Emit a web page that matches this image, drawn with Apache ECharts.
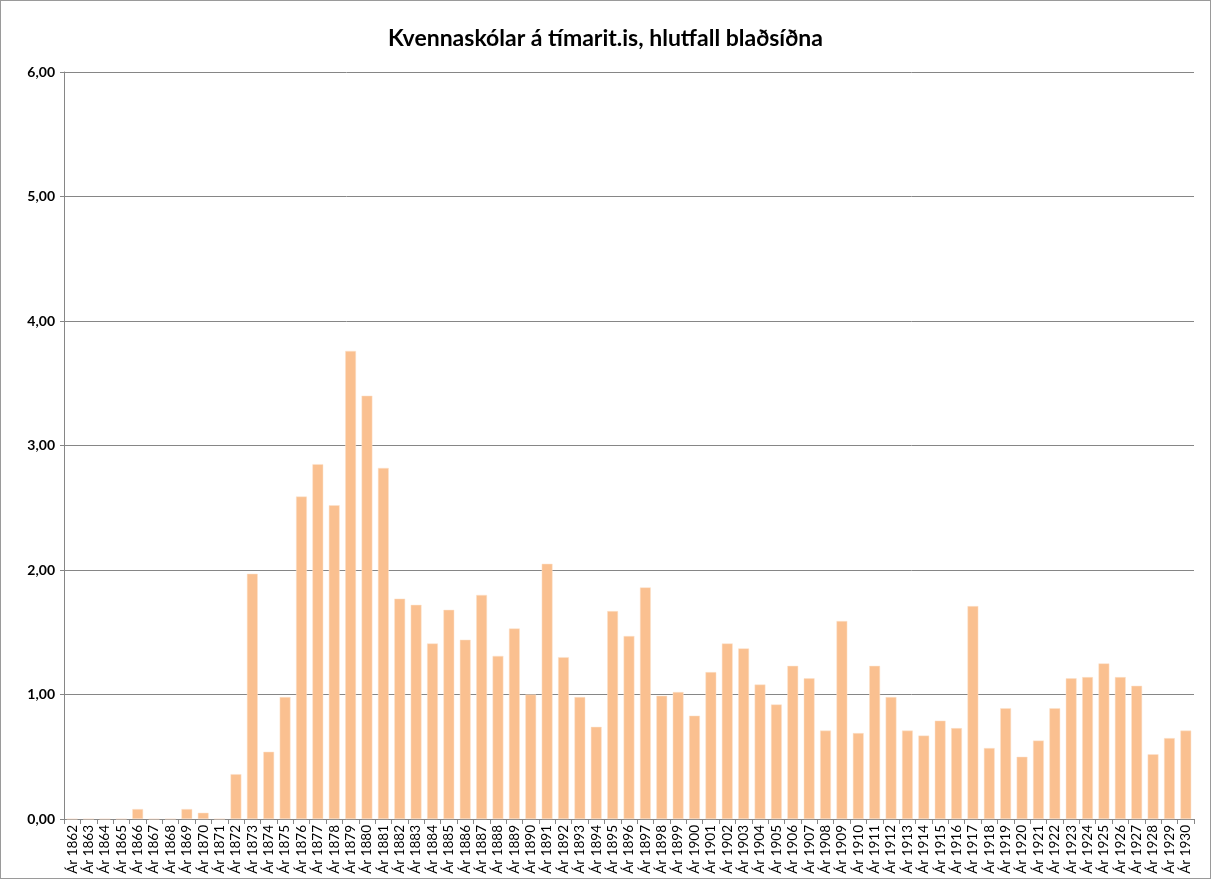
<!DOCTYPE html>
<html>
<head>
<meta charset="utf-8">
<script src="https://cdn.jsdelivr.net/npm/echarts@6/dist/echarts.min.js"></script>
<style>
	html, body { margin: 0; padding: 0; background: #fff; }
	#chart {
		width: 1211px;
		height: 879px;
		box-sizing: border-box;
		border: 1px solid #9a9a9a;
	}
</style>
</head>
<body>
<div id="chart"></div>
<script>
// ár (flokkar)
var years = ['Ár 1862', 'Ár 1863', 'Ár 1864', 'Ár 1865', 'Ár 1866', 'Ár 1867', 'Ár 1868', 'Ár 1869', 'Ár 1870', 'Ár 1871',
	'Ár 1872', 'Ár 1873', 'Ár 1874', 'Ár 1875', 'Ár 1876', 'Ár 1877', 'Ár 1878', 'Ár 1879', 'Ár 1880', 'Ár 1881',
	'Ár 1882', 'Ár 1883', 'Ár 1884', 'Ár 1885', 'Ár 1886', 'Ár 1887', 'Ár 1888', 'Ár 1889', 'Ár 1890', 'Ár 1891',
	'Ár 1892', 'Ár 1893', 'Ár 1894', 'Ár 1895', 'Ár 1896', 'Ár 1897', 'Ár 1898', 'Ár 1899', 'Ár 1900', 'Ár 1901',
	'Ár 1902', 'Ár 1903', 'Ár 1904', 'Ár 1905', 'Ár 1906', 'Ár 1907', 'Ár 1908', 'Ár 1909', 'Ár 1910', 'Ár 1911',
	'Ár 1912', 'Ár 1913', 'Ár 1914', 'Ár 1915', 'Ár 1916', 'Ár 1917', 'Ár 1918', 'Ár 1919', 'Ár 1920', 'Ár 1921',
	'Ár 1922', 'Ár 1923', 'Ár 1924', 'Ár 1925', 'Ár 1926', 'Ár 1927', 'Ár 1928', 'Ár 1929', 'Ár 1930'];

// hlutfall blaðsíðna
var shares = [0, 0, 0, 0, 0.08, 0, 0, 0.08, 0.05, 0,
	0.36, 1.97, 0.54, 0.98, 2.59, 2.85, 2.52, 3.76, 3.40, 2.82,
	1.77, 1.72, 1.41, 1.68, 1.44, 1.80, 1.31, 1.53, 1.00, 2.05,
	1.30, 0.98, 0.74, 1.67, 1.47, 1.86, 0.99, 1.02, 0.83, 1.18,
	1.41, 1.37, 1.08, 0.92, 1.23, 1.13, 0.71, 1.59, 0.69, 1.23,
	0.98, 0.71, 0.67, 0.79, 0.73, 1.71, 0.57, 0.89, 0.50, 0.63,
	0.89, 1.13, 1.14, 1.25, 1.14, 1.07, 0.52, 0.65, 0.71];

var chartTitle = 'Kvennaskólar á tímarit.is, hlutfall blaðsíðna';

var box = document.getElementById('chart');
var myChart = echarts.init(box, null, {renderer: 'canvas'});
myChart.setOption({
	backgroundColor: '#fff',
	animation: false,
	textStyle: { fontFamily: 'Lato, "Liberation Sans", sans-serif' },
	title: {
		text: chartTitle,
		left: 'center',
		top: 21,
		textStyle: { fontSize: 23, fontWeight: 'bold', color: '#000', fontFamily: 'Lato, sans-serif' }
	},
	grid: { left: 63, right: 16, top: 71, bottom: 59, containLabel: false, outerBoundsMode: 'none' },
	xAxis: {
		type: 'category',
		data: years,
		axisLine: { lineStyle: { color: '#868686', width: 1 } },
		axisTick: { show: true, alignWithLabel: false, length: 5, lineStyle: { color: '#868686' } },
		axisLabel: {
			interval: 0,
			rotate: 90,
			margin: 6,
			fontSize: 13.5,
			color: '#000'
		},
		splitLine: { show: false }
	},
	yAxis: {
		type: 'value',
		min: 0,
		max: 6,
		interval: 1,
		axisLine: { show: true, lineStyle: { color: '#868686' } },
		axisTick: { show: true, length: 4, lineStyle: { color: '#868686' } },
		axisLabel: {
			fontSize: 14,
			fontWeight: 'bold',
			color: '#000',
			margin: 9,
			formatter: function (v) { return v.toFixed(2).replace('.', ','); }
		},
		splitLine: { lineStyle: { color: '#868686', width: 1, type: 'solid' } }
	},
	series: [{
		type: 'bar',
		data: shares,
		barWidth: '66%',
		itemStyle: { color: '#FAC090', borderColor: '#fde3cc', borderWidth: 0.5 }
	}]
});
</script>
</body>
</html>
